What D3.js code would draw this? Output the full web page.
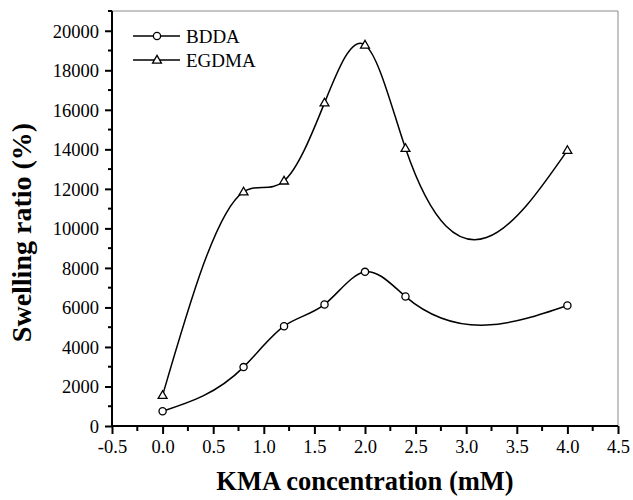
<!DOCTYPE html>
<html>
<head>
<meta charset="utf-8">
<script src="https://cdn.jsdelivr.net/npm/d3@7"></script>
<style>
  html, body { margin: 0; padding: 0; background: #fff; }
  svg text { font-family: 'Liberation Serif', 'DejaVu Serif', serif; }
</style>
</head>
<body>
<svg id="chart" width="633" height="500"></svg>
<script>
// KMA concentration (mM) at which each hydrogel was prepared
const concentration = [0.0, 0.8, 1.2, 1.6, 2.0, 2.4, 4.0];
// Swelling ratio (%) for each crosslinker
const bdda  = [750, 2980, 5050, 6150, 7800, 6550, 6100];
const egdma = [1550, 11850, 12400, 16350, 19280, 14050, 13950];
const seriesNames = ["BDDA", "EGDMA"];
const xTicks = [-0.5, 0.0, 0.5, 1.0, 1.5, 2.0, 2.5, 3.0, 3.5, 4.0, 4.5];
const yTicks = [0, 2000, 4000, 6000, 8000, 10000, 12000, 14000, 16000, 18000, 20000];

const serif = "'Liberation Serif', 'DejaVu Serif', serif";
const svg = d3.select("#chart");
const plotLeft = 112, plotRight = 618, plotTop = 11, plotBottom = 426;

const x = d3.scaleLinear().domain([-0.5, 4.5]).range([plotLeft, plotRight]);
const y = d3.scaleLinear().domain([0, 21000]).range([plotBottom, plotTop]);

// Natural cubic spline of y as a function of x, emitted as Bezier segments
function curveSplineX(context) {
  let pts = [];
  return {
    areaStart() {}, areaEnd() {},
    lineStart() { pts = []; },
    point(px, py) { pts.push([+px, +py]); },
    lineEnd() {
      const n = pts.length;
      if (!n) return;
      context.moveTo(pts[0][0], pts[0][1]);
      if (n === 1) return;
      if (n === 2) { context.lineTo(pts[1][0], pts[1][1]); return; }
      const h = [], d = [];
      for (let i = 0; i < n - 1; i++) {
        h[i] = pts[i + 1][0] - pts[i][0];
        d[i] = (pts[i + 1][1] - pts[i][1]) / h[i];
      }
      // second derivatives M with M0 = Mn-1 = 0
      const a = [], b = [], c = [], r = [];
      for (let i = 1; i < n - 1; i++) {
        a.push(h[i - 1]); b.push(2 * (h[i - 1] + h[i])); c.push(h[i]);
        r.push(6 * (d[i] - d[i - 1]));
      }
      const m = r.length;
      for (let i = 1; i < m; i++) {
        const w = a[i] / b[i - 1];
        b[i] -= w * c[i - 1];
        r[i] -= w * r[i - 1];
      }
      const inner = new Array(m);
      inner[m - 1] = r[m - 1] / b[m - 1];
      for (let i = m - 2; i >= 0; i--) inner[i] = (r[i] - c[i] * inner[i + 1]) / b[i];
      const M = [0, ...inner, 0];
      for (let i = 0; i < n - 1; i++) {
        const s0 = d[i] - h[i] * (2 * M[i] + M[i + 1]) / 6;
        const s1 = d[i] + h[i] * (M[i] + 2 * M[i + 1]) / 6;
        const [x0, y0] = pts[i], [x1, y1] = pts[i + 1];
        context.bezierCurveTo(x0 + h[i] / 3, y0 + s0 * h[i] / 3,
                              x1 - h[i] / 3, y1 - s1 * h[i] / 3, x1, y1);
      }
    }
  };
}

// Frame: light top and right edges
svg.append("line").attr("x1", plotLeft).attr("x2", plotRight).attr("y1", plotTop).attr("y2", plotTop)
  .attr("stroke", "#8a8a8a").attr("stroke-width", 1);
svg.append("line").attr("x1", plotRight).attr("x2", plotRight).attr("y1", plotTop).attr("y2", plotBottom)
  .attr("stroke", "#8a8a8a").attr("stroke-width", 1);

// Minor ticks
const xMinor = d3.range(-0.25, 4.5, 0.5);
const yMinor = d3.range(1000, 21001, 2000);
svg.append("g").selectAll("line").data(xMinor).join("line")
  .attr("x1", d => x(d)).attr("x2", d => x(d))
  .attr("y1", plotBottom).attr("y2", plotBottom + 5)
  .attr("stroke", "#000").attr("stroke-width", 2);
svg.append("g").selectAll("line").data(yMinor).join("line")
  .attr("x1", plotLeft - 4).attr("x2", plotLeft)
  .attr("y1", d => y(d)).attr("y2", d => y(d))
  .attr("stroke", "#000").attr("stroke-width", 2);

// Major axes
const fmtX = d => d3.format(".1f")(d).replace("\u2212", "-");
const xAxis = svg.append("g").attr("transform", `translate(0,${plotBottom})`)
  .call(d3.axisBottom(x).tickValues(xTicks).tickFormat(fmtX).tickSize(8).tickSizeOuter(0).tickPadding(6));
const yAxis = svg.append("g").attr("transform", `translate(${plotLeft},0)`)
  .call(d3.axisLeft(y).tickValues(yTicks).tickFormat(d3.format("d")).tickSize(7).tickSizeOuter(0).tickPadding(6));
[xAxis, yAxis].forEach(g => {
  g.attr("font-family", serif).attr("font-size", 18.5);
  g.select(".domain").attr("stroke", "#000").attr("stroke-width", 2);
  g.selectAll(".tick line").attr("stroke", "#000").attr("stroke-width", 2);
  g.selectAll(".tick text").attr("fill", "#000");
});
yAxis.select(".domain").attr("d", `M0,${plotBottom + 1}V${plotTop}`);
xAxis.select(".domain").attr("d", `M${plotLeft - 1},0H${plotRight}`);
xAxis.selectAll(".tick text").attr("dy", "0.71em");
yAxis.selectAll(".tick text").attr("dy", "0.34em");

// Axis titles
svg.append("text").attr("x", 365).attr("y", 490)
  .attr("text-anchor", "middle").attr("font-family", serif)
  .attr("font-weight", "bold").attr("font-size", 26.5)
  .text("KMA concentration (mM)");
svg.append("text").attr("transform", `translate(31,${(plotTop + plotBottom) / 2 + 14}) rotate(-90)`)
  .attr("text-anchor", "middle").attr("font-family", serif)
  .attr("font-weight", "bold").attr("font-size", 28)
  .text("Swelling ratio (%)");

// Curves and markers
const line = d3.line().x(d => x(d[0])).y(d => y(d[1])).curve(curveSplineX);
const triangle = d3.symbol().type(d3.symbolTriangle).size(34);
const series = [
  { name: seriesNames[0], values: bdda, marker: "circle" },
  { name: seriesNames[1], values: egdma, marker: "triangle" }
];

function drawMarker(g, kind, cx, cy) {
  if (kind === "circle") {
    g.append("circle").attr("cx", cx).attr("cy", cy).attr("r", 3.6)
      .attr("fill", "#fff").attr("stroke", "#000").attr("stroke-width", 1.3);
  } else {
    g.append("path").attr("d", triangle()).attr("transform", `translate(${cx},${cy + 0.5})`)
      .attr("fill", "#fff").attr("stroke", "#000").attr("stroke-width", 1.3);
  }
}

series.forEach(s => {
  const pts = concentration.map((c, i) => [c, s.values[i]]);
  svg.append("path").datum(pts).attr("d", line)
    .attr("fill", "none").attr("stroke", "#000").attr("stroke-width", 1.5);
  const g = svg.append("g");
  pts.forEach(p => drawMarker(g, s.marker, x(p[0]), y(p[1])));
});

// Legend
const legend = svg.append("g");
series.forEach((s, i) => {
  const ly = 36 + i * 24;
  legend.append("line").attr("x1", 133).attr("x2", 180).attr("y1", ly).attr("y2", ly)
    .attr("stroke", "#000").attr("stroke-width", 1.5);
  drawMarker(legend, s.marker, 157, ly);
  legend.append("text").attr("x", 186).attr("y", ly + 7)
    .attr("font-family", serif).attr("font-size", 19).attr("fill", "#000").text(s.name);
});
</script>
</body>
</html>
